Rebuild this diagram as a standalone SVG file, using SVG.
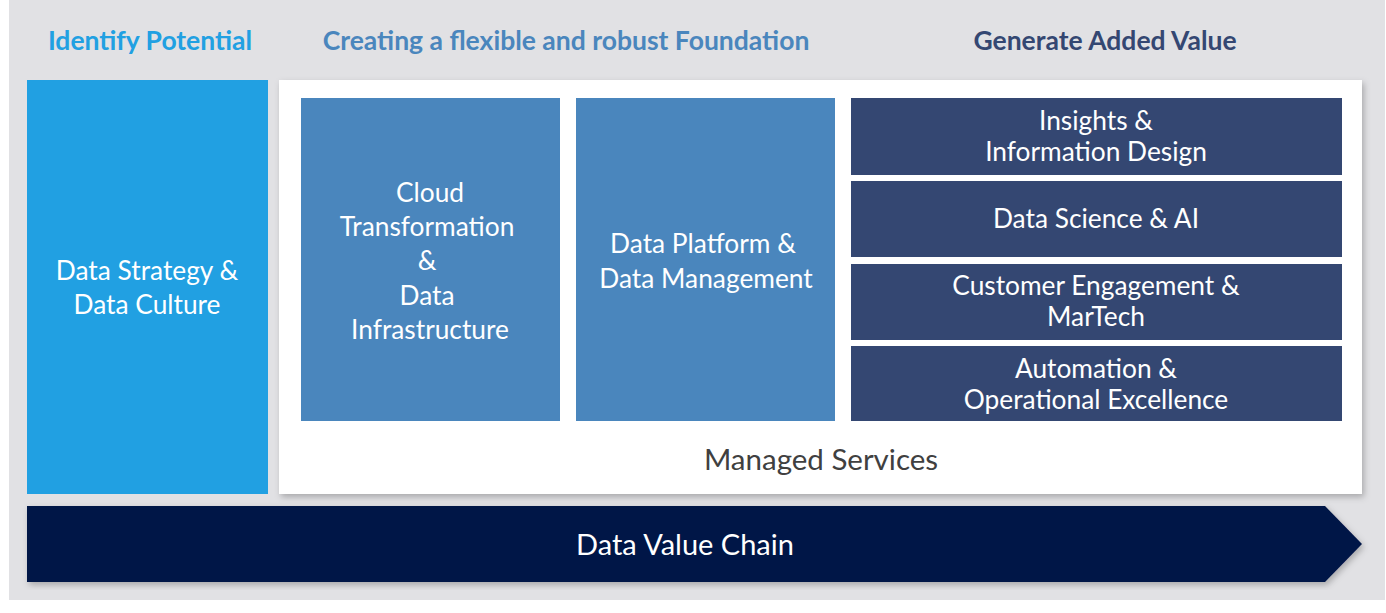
<svg xmlns="http://www.w3.org/2000/svg" width="1386" height="613" viewBox="0 0 1386 613">
<defs>
<style>
text{font-family:Lato,"Open Sans","Liberation Sans",sans-serif;text-anchor:middle}
.h{font-size:26.5px;font-weight:bold}
.w{fill:#fff;font-size:26.3px}
</style>
<filter id="sh" x="-5%" y="-5%" width="110%" height="115%"><feDropShadow dx="2" dy="3" stdDeviation="3" flood-color="#000" flood-opacity="0.25"/></filter>
</defs>
<rect width="1386" height="613" fill="#fff"/>
<rect x="9" y="0" width="1376" height="600" fill="#e1e1e4"/>
<text class="h" x="150" y="50" fill="#21a0e2">Identify Potential</text>
<text class="h" x="566" y="50" fill="#4a86bd">Creating a flexible and robust Foundation</text>
<text class="h" x="1105" y="50" fill="#344772">Generate Added Value</text>
<g id="strategy"><rect x="27" y="80" width="241" height="414" fill="#21a0e2"/>
<text class="w" x="147" y="280">Data Strategy &amp;</text><text class="w" x="147" y="314">Data Culture</text></g>
<g id="panel"><rect x="279" y="80" width="1083" height="414" fill="#fff" filter="url(#sh)"/>
<text x="821" y="470" font-size="29.5" fill="#404040">Managed Services</text></g>
<g id="cloud"><rect x="301" y="98" width="259" height="323" fill="#4a86bd"/>
<text class="w" x="430" y="202">Cloud</text><text class="w" x="427" y="236">Transformation</text><text class="w" x="427" y="270">&amp;</text><text class="w" x="427" y="305">Data</text><text class="w" x="430" y="339">Infrastructure</text></g>
<g id="platform"><rect x="576" y="98" width="259" height="323" fill="#4a86bd"/>
<text class="w" x="703" y="253">Data Platform &amp;</text><text class="w" x="706" y="288">Data Management</text></g>
<g id="insights"><rect x="851" y="98" width="491" height="77" fill="#344772"/>
<text class="w" x="1096" y="130">Insights &amp;</text><text class="w" x="1096" y="161">Information Design</text></g>
<g id="ds"><rect x="851" y="181" width="491" height="76" fill="#344772"/>
<text class="w" x="1096" y="228">Data Science &amp; AI</text></g>
<g id="ce"><rect x="851" y="264" width="491" height="76" fill="#344772"/>
<text class="w" x="1096" y="295">Customer Engagement &amp;</text><text class="w" x="1096" y="326">MarTech</text></g>
<g id="auto"><rect x="851" y="346" width="491" height="75" fill="#344772"/>
<text class="w" x="1096" y="378">Automation &amp;</text><text class="w" x="1096" y="409">Operational Excellence</text></g>
<g id="chain"><polygon points="27,506 1325,506 1362,544 1325,582 27,582" fill="#001446" filter="url(#sh)"/>
<text x="685" y="555" font-size="29" fill="#fff">Data Value Chain</text></g>
<g id="connectors"/>
</svg>
